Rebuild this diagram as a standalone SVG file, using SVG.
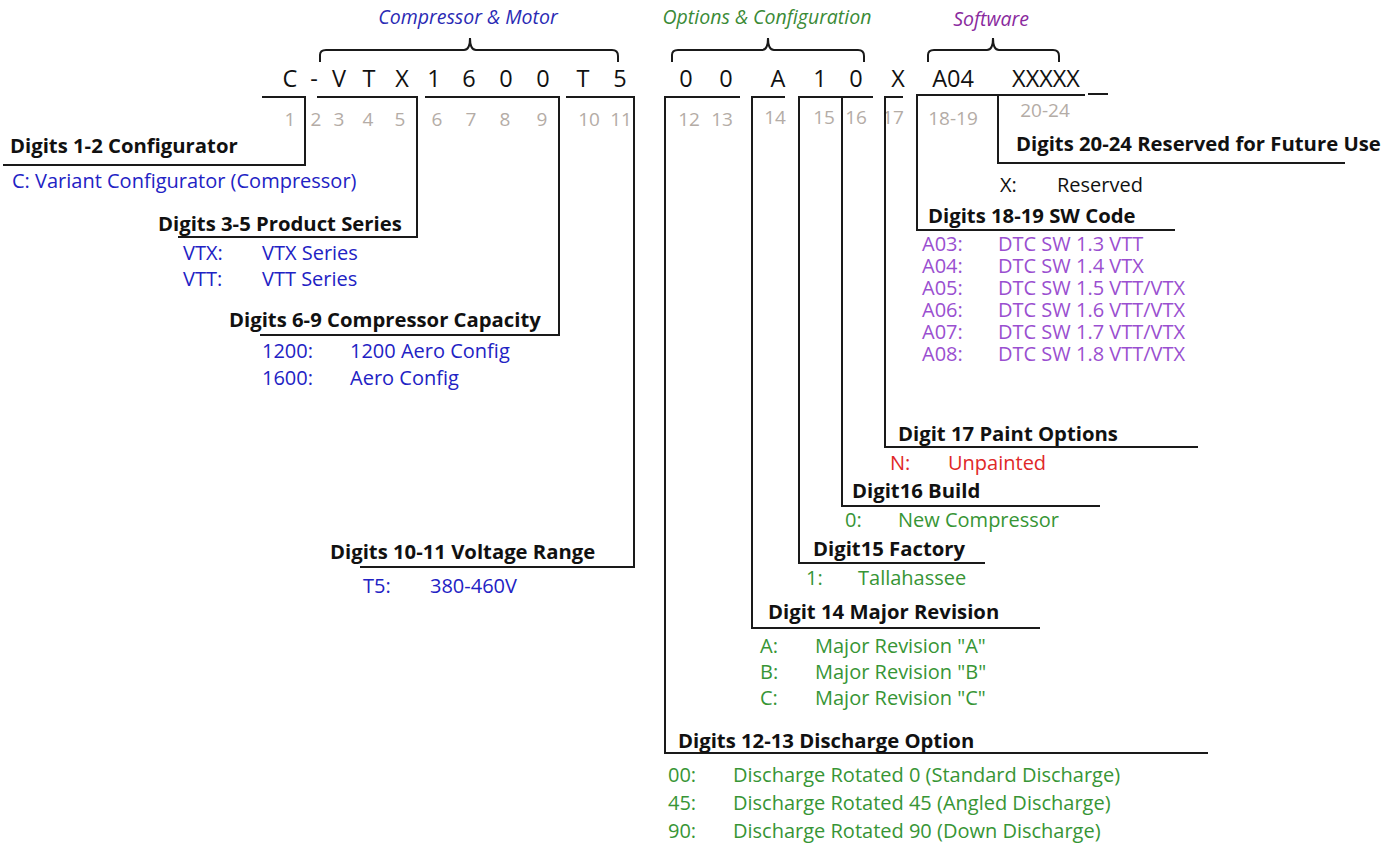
<svg xmlns="http://www.w3.org/2000/svg" width="1397" height="846" viewBox="0 0 1397 846">
<style>
text{font-family:"Open Sans","Noto Sans","Liberation Sans",sans-serif}
.lbl{font-weight:bold;font-size:20.3px;fill:#111}
.v{font-size:20px}
.b{fill:#2222c4}
.g{fill:#379535}
.p{fill:#9a4fd0}
.r{fill:#e02828}
.k{fill:#111}
.code{font-size:23.5px;fill:#111;text-anchor:middle}
.num{font-size:19px;fill:#b4aca6;text-anchor:middle}
.hdr{font-size:19.5px;font-style:italic;text-anchor:middle}
.ln{fill:none;stroke:#1a1a1a;stroke-width:2}
</style>
<rect width="1397" height="846" fill="#fff"/>
<g id="headers">
<text class="hdr" x="468" y="24" fill="#2a2ab4">Compressor &amp; Motor</text>
<text class="hdr" x="767" y="24" fill="#3a8a36">Options &amp; Configuration</text>
<text class="hdr" x="991" y="26" fill="#8a2a9e">Software</text>
</g>
<g id="code">
<text class="code" x="290" y="87">C</text>
<text class="code" x="314" y="87">-</text>
<text class="code" x="339" y="87">V</text>
<text class="code" x="369" y="87">T</text>
<text class="code" x="402" y="87">X</text>
<text class="code" x="434" y="87">1</text>
<text class="code" x="469" y="87">6</text>
<text class="code" x="506" y="87">0</text>
<text class="code" x="543" y="87">0</text>
<text class="code" x="583" y="87">T</text>
<text class="code" x="620" y="87">5</text>
<text class="code" x="686" y="87">0</text>
<text class="code" x="726" y="87">0</text>
<text class="code" x="778" y="87">A</text>
<text class="code" x="820" y="87">1</text>
<text class="code" x="856" y="87">0</text>
<text class="code" x="898" y="87">X</text>
<text class="code" x="953" y="87">A04</text>
<text class="code" x="1046" y="87">XXXXX</text>
</g>
<g id="digit-numbers">
<text class="num" x="290" y="126">1</text>
<text class="num" x="316" y="126">2</text>
<text class="num" x="339" y="126">3</text>
<text class="num" x="368" y="126">4</text>
<text class="num" x="400" y="126">5</text>
<text class="num" x="437" y="126">6</text>
<text class="num" x="471" y="126">7</text>
<text class="num" x="505" y="126">8</text>
<text class="num" x="542" y="126">9</text>
<text class="num" x="589" y="126">10</text>
<text class="num" x="621" y="126">11</text>
<text class="num" x="689" y="126">12</text>
<text class="num" x="722" y="126">13</text>
<text class="num" x="775" y="124">14</text>
<text class="num" x="824" y="124">15</text>
<text class="num" x="856" y="124">16</text>
<text class="num" x="893" y="124">17</text>
<text class="num" x="953" y="125">18-19</text>
<text class="num" x="1045" y="117">20-24</text>
</g>
<g id="connectors">
<path class="ln" d="M320,62 V55 Q320,50 326,50 H464 Q470,50 470,38 Q470,50 476,50 H612 Q618,50 618,56 V62"/>
<path class="ln" d="M672,62 V55 Q672,50 678,50 H762 Q768,50 768,38 Q768,50 774,50 H858 Q864,50 864,56 V62"/>
<path class="ln" d="M928,62 V55 Q928,50 934,50 H987 Q993,50 993,38 Q993,50 999,50 H1053 Q1059,50 1059,56 V62"/>
<path class="ln" d="M262,97 H305 V165 H3"/>
<path class="ln" d="M317,97 H417 V237 H178"/>
<path class="ln" d="M425,97 H559 V335 H260"/>
<path class="ln" d="M566,97 H634 V567 H360"/>
<path class="ln" d="M740,97 H665 V753 H1208"/>
<path class="ln" d="M785,97 H752 V628 H1040"/>
<path class="ln" d="M842,97 H799 V563 H985"/>
<path class="ln" d="M873,97 H842 V506 H1100"/>
<path class="ln" d="M903,97 H885 V447 H1198"/>
<path class="ln" d="M1085,95 H917 V230 H1175"/>
<path class="ln" d="M998,95 V163 H1345"/>
<path class="ln" d="M1088,94 H1108"/>
</g>
<g id="d1-2">
<text class="lbl" x="10" y="153">Digits 1-2 Configurator</text>
<text class="v b" x="12" y="188">C: Variant Configurator (Compressor)</text>
</g>
<g id="d3-5">
<text class="lbl" x="158" y="231">Digits 3-5 Product Series</text>
<text class="v b" x="183" y="260">VTX:</text><text class="v b" x="262" y="260">VTX Series</text>
<text class="v b" x="183" y="286">VTT:</text><text class="v b" x="262" y="286">VTT Series</text>
</g>
<g id="d6-9">
<text class="lbl" x="229" y="327">Digits 6-9 Compressor Capacity</text>
<text class="v b" x="262" y="358">1200:</text><text class="v b" x="350" y="358">1200 Aero Config</text>
<text class="v b" x="262" y="385">1600:</text><text class="v b" x="350" y="385">Aero Config</text>
</g>
<g id="d10-11">
<text class="lbl" x="330" y="559">Digits 10-11 Voltage Range</text>
<text class="v b" x="363" y="593">T5:</text><text class="v b" x="430" y="593">380-460V</text>
</g>
<g id="d12-13">
<text class="lbl" x="678" y="748">Digits 12-13 Discharge Option</text>
<text class="v g" x="668" y="782">00:</text><text class="v g" x="733" y="782">Discharge Rotated 0 (Standard Discharge)</text>
<text class="v g" x="668" y="810">45:</text><text class="v g" x="733" y="810">Discharge Rotated 45 (Angled Discharge)</text>
<text class="v g" x="668" y="838">90:</text><text class="v g" x="733" y="838">Discharge Rotated 90 (Down Discharge)</text>
</g>
<g id="d14">
<text class="lbl" x="768" y="619">Digit 14 Major Revision</text>
<text class="v g" x="760" y="653">A:</text><text class="v g" x="815" y="653">Major Revision "A"</text>
<text class="v g" x="760" y="679">B:</text><text class="v g" x="815" y="679">Major Revision "B"</text>
<text class="v g" x="760" y="705">C:</text><text class="v g" x="815" y="705">Major Revision "C"</text>
</g>
<g id="d15">
<text class="lbl" x="813" y="556">Digit15 Factory</text>
<text class="v g" x="806" y="585">1:</text><text class="v g" x="858" y="585">Tallahassee</text>
</g>
<g id="d16">
<text class="lbl" x="852" y="498">Digit16 Build</text>
<text class="v g" x="845" y="527">0:</text><text class="v g" x="898" y="527">New Compressor</text>
</g>
<g id="d17">
<text class="lbl" x="898" y="441">Digit 17 Paint Options</text>
<text class="v r" x="890" y="470">N:</text><text class="v r" x="948" y="470">Unpainted</text>
</g>
<g id="d18-19">
<text class="lbl" x="928" y="223">Digits 18-19 SW Code</text>
<text class="v p" x="922" y="251">A03:</text><text class="v p" x="998" y="251">DTC SW 1.3 VTT</text>
<text class="v p" x="922" y="273">A04:</text><text class="v p" x="998" y="273">DTC SW 1.4 VTX</text>
<text class="v p" x="922" y="295">A05:</text><text class="v p" x="998" y="295">DTC SW 1.5 VTT/VTX</text>
<text class="v p" x="922" y="317">A06:</text><text class="v p" x="998" y="317">DTC SW 1.6 VTT/VTX</text>
<text class="v p" x="922" y="339">A07:</text><text class="v p" x="998" y="339">DTC SW 1.7 VTT/VTX</text>
<text class="v p" x="922" y="361">A08:</text><text class="v p" x="998" y="361">DTC SW 1.8 VTT/VTX</text>
</g>
<g id="d20-24">
<text class="lbl" x="1016" y="151">Digits 20-24 Reserved for Future Use</text>
<text class="v k" x="1000" y="192">X:</text><text class="v k" x="1057" y="192">Reserved</text>
</g>
</svg>
